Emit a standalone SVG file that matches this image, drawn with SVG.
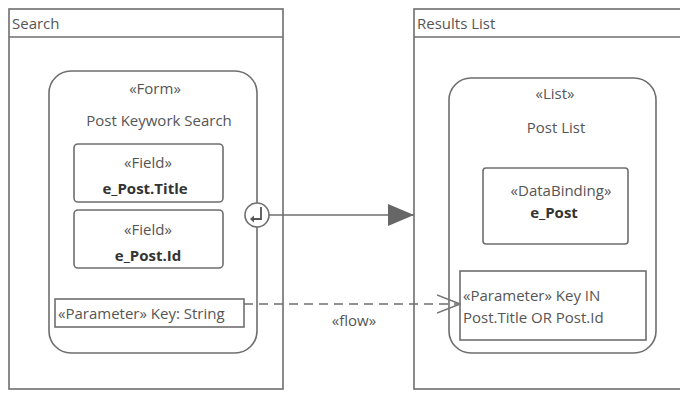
<svg xmlns="http://www.w3.org/2000/svg" width="680" height="394" viewBox="0 0 680 394">
<defs>
<style>
.ln{fill:none;stroke:#6e6e6e;stroke-width:1.6}
.bx{fill:#fff;stroke:#6e6e6e;stroke-width:1.6}
text{font-family:"Open Sans","Liberation Sans",sans-serif;font-size:15px;fill:#555}
.c{text-anchor:middle}
.b{font-weight:bold;fill:#333}
</style>
<marker id="tri" viewBox="0 0 26 22" refX="26" refY="11" markerWidth="26" markerHeight="22" markerUnits="userSpaceOnUse" orient="auto">
<path d="M0,0 L26,11 L0,22 Z" fill="#666"/>
</marker>
<marker id="open" viewBox="0 0 24 20" refX="23" refY="10" markerWidth="24" markerHeight="20" markerUnits="userSpaceOnUse" orient="auto">
<path d="M0,1 L23,10 L0,19" fill="none" stroke="#777" stroke-width="1.6"/>
</marker>
</defs>
<rect width="680" height="394" fill="#fff"/>
<g id="search">
<rect class="bx" x="9" y="9" width="274" height="380"/>
<line class="ln" x1="9" y1="37" x2="283" y2="37"/>
<text x="12" y="29">Search</text>
</g>
<g id="results">
<rect class="bx" x="414" y="9" width="276" height="380"/>
<line class="ln" x1="414" y1="37" x2="680" y2="37"/>
<text x="417" y="29">Results List</text>
</g>
<g id="form">
<rect class="bx" x="49" y="71" width="208" height="282" rx="22"/>
<text class="c" x="155" y="94">«Form»</text>
<text class="c" x="159" y="126">Post Keywork Search</text>
</g>
<g id="field-title">
<rect class="bx" x="74" y="144" width="149" height="58" rx="4"/>
<text class="c" x="148" y="168">«Field»</text>
<text class="c b" x="145" y="194">e_Post.Title</text>
</g>
<g id="field-id">
<rect class="bx" x="74" y="210" width="149" height="58" rx="4"/>
<text class="c" x="148" y="235">«Field»</text>
<text class="c b" x="148" y="261">e_Post.Id</text>
</g>
<g id="param-key">
<rect class="bx" x="55" y="299" width="189" height="28"/>
<text x="58" y="319">«Parameter» Key: String</text>
</g>
<g id="port">
<circle cx="257" cy="215" r="12" fill="#fff" stroke="#6e6e6e" stroke-width="1.6"/>
<path d="M261,207 V219 H252" fill="none" stroke="#555" stroke-width="1.8"/>
<path d="M250,219 L254,215.5 L254,222.5 Z" fill="#555"/>
</g>
<g id="list">
<rect class="bx" x="449" y="78" width="207" height="275" rx="22"/>
<text class="c" x="555" y="99">«List»</text>
<text class="c" x="556" y="133">Post List</text>
</g>
<g id="databinding">
<rect class="bx" x="483" y="168" width="145" height="76" rx="3"/>
<text class="c" x="561" y="196">«DataBinding»</text>
<text class="c b" x="554" y="218">e_Post</text>
</g>
<g id="param-in">
<rect class="bx" x="460" y="271" width="186" height="69"/>
<text x="463" y="301">«Parameter» Key IN</text>
<text x="463" y="323">Post.Title OR Post.Id</text>
</g>
<g id="connectors">
<line class="ln" x1="269" y1="215" x2="414" y2="215" marker-end="url(#tri)"/>
<line class="ln" x1="244" y1="304" x2="460" y2="304" stroke-dasharray="9,6" marker-end="url(#open)"/>
<text class="c" x="354" y="326">«flow»</text>
</g>
</svg>
